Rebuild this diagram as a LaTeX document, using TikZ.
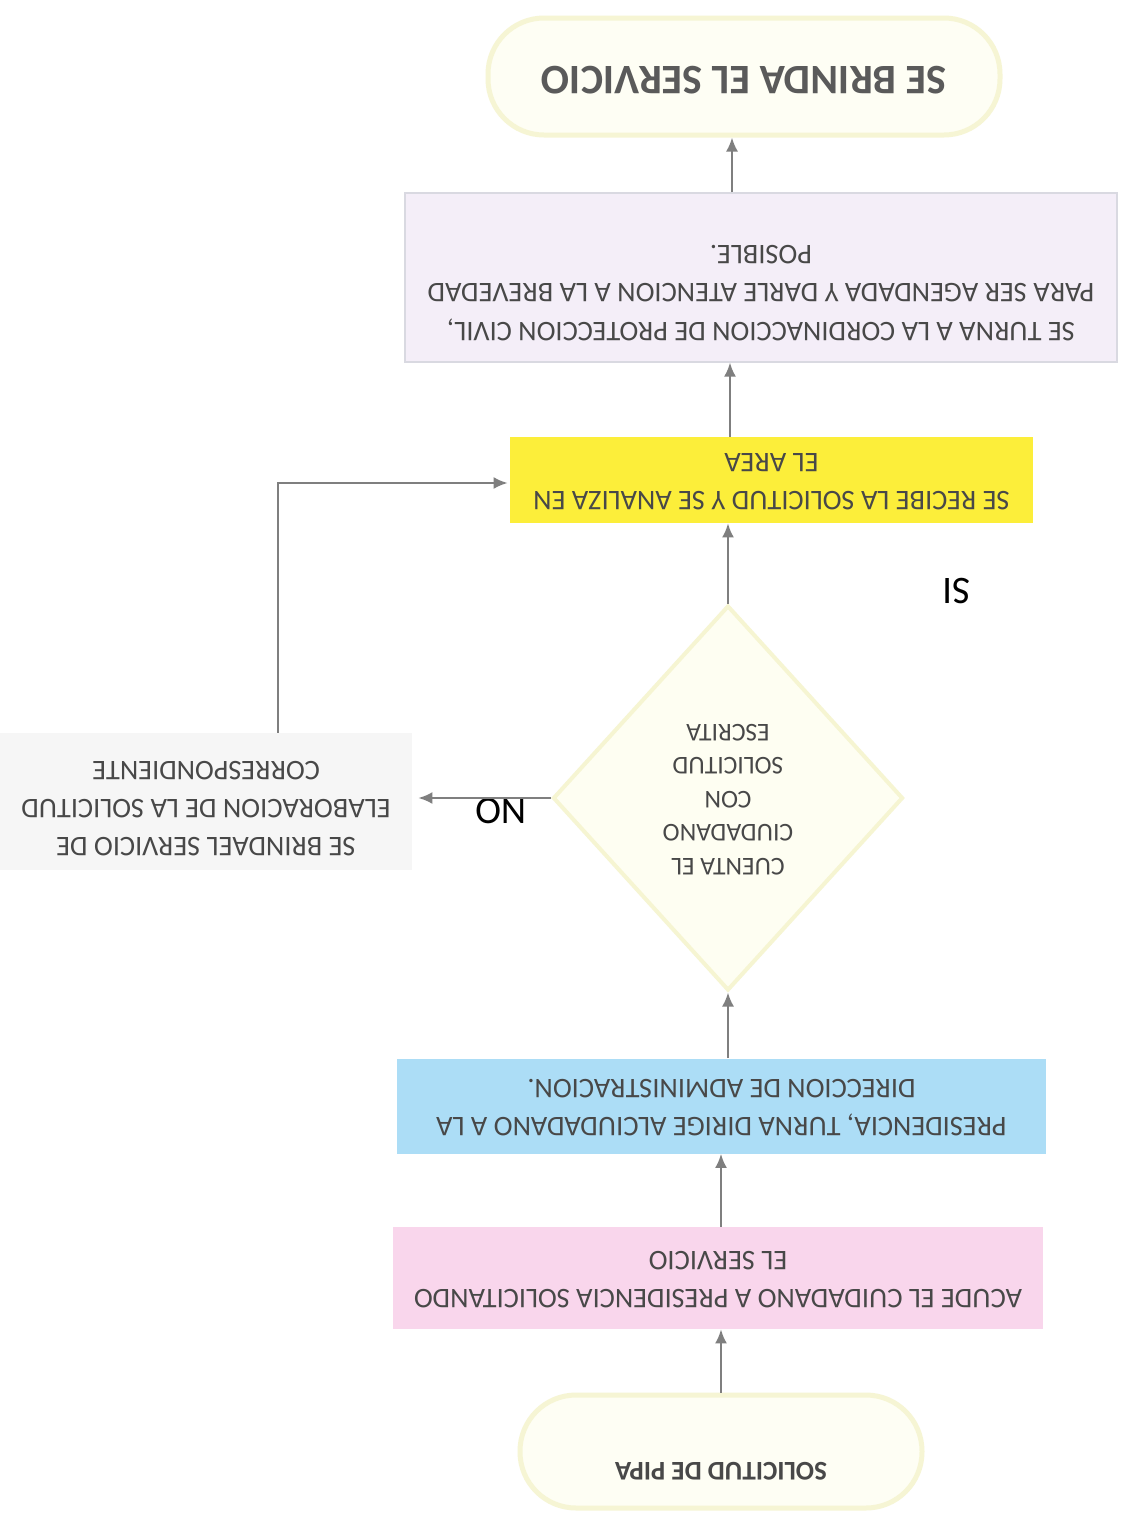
\documentclass[tikz,border=0pt]{standalone}
\usepackage{fontspec}
\setmainfont{Carlito}
\usepackage{graphicx}
\usetikzlibrary{shapes.geometric,arrows.meta,calc}
\definecolor{txt}{HTML}{484848}
\definecolor{termfill}{HTML}{FEFEF4}
\definecolor{termdraw}{HTML}{F6F5D4}
\definecolor{lavfill}{HTML}{F4EEF8}
\definecolor{lavdraw}{HTML}{D9D9E1}
\definecolor{yelfill}{HTML}{FCEE3A}
\definecolor{bluefill}{HTML}{ACDDF6}
\definecolor{pinkfill}{HTML}{F9D6EC}
\definecolor{grayfill}{HTML}{F6F6F6}
\definecolor{diafill}{HTML}{FEFEF2}
\definecolor{diadraw}{HTML}{F6F5D2}
\definecolor{arrgray}{HTML}{7F7F7F}
\newcommand{\flip}[1]{\rotatebox[origin=c]{180}{\begin{tabular}{@{}c@{}}#1\end{tabular}}}
\begin{document}
\begin{tikzpicture}[x=0.5pt,y=-0.5pt,
  box/.style={rectangle, inner sep=0pt, text=txt, font=\fontsize{14.2}{19}\selectfont},
  term/.style={rectangle, rounded corners=28pt, fill=termfill, draw=termdraw, line width=2.5pt, inner sep=0pt, text=txt},
  arr/.style={draw=arrgray, line width=1.1pt, -{Latex[length=7pt,width=6pt]}},
  lbl/.style={font=\fontsize{19.5}{20}\selectfont, text=black, inner sep=0pt}]
\useasboundingbox (0,0) rectangle (1127,1522);
\fill[white] (0,0) rectangle (1127,1522);

% terminals
\node[term, minimum width=256pt, minimum height=58.5pt, text=txt!90, font=\bfseries\fontsize{21}{24}\selectfont] (title) at (744,76.5) {\flip{SE BRINDA EL SERVICIO}};
\node[term, minimum width=201pt, minimum height=56.5pt,
  label={[yshift=-8.5pt, text=txt, inner sep=0pt, font=\bfseries\fontsize{13.5}{16}\selectfont]center:\flip{SOLICITUD DE PIPA}}] (start) at (721,1451.5) {};

% process boxes
\node[box, fill=lavfill, draw=lavdraw, line width=0.6pt, minimum width=356pt, minimum height=84.5pt,
  label={[yshift=-7pt, text=txt, inner sep=0pt, font=\fontsize{14.2}{19.3}\selectfont]center:\flip{SE TURNA A LA CORDINACCION DE PROTECCION CIVIL,\\PARA SER AGENDADA Y DARLE ATENCION A LA BREVEDAD\\POSIBLE.}}] (lav) at (761,277.5) {};
\node[box, fill=yelfill, minimum width=261.5pt, minimum height=43pt] (yel) at (771.5,480) {\flip{SE RECIBE LA SOLICITUD Y SE ANALIZA EN\\EL AREA}};
\node[box, fill=grayfill, minimum width=206pt, minimum height=68.5pt,
  label={[yshift=-3pt, text=txt, inner sep=0pt, font=\fontsize{14.2}{19}\selectfont]center:\flip{SE BRINDAEL SERVICIO DE\\ELABORACION DE LA SOLICITUD\\CORRESPONDIENTE}}] (gray) at (206,801.5) {};
\node[box, fill=bluefill, minimum width=324.5pt, minimum height=47.5pt] (blue) at (721.5,1106) {\flip{PRESIDENCIA, TURNA DIRIGE ALCIUDADANO A LA\\DIRECCION DE ADMINISTRACION.}};
\node[box, fill=pinkfill, minimum width=325pt, minimum height=51pt] (pink) at (718,1278) {\flip{ACUDE EL CUIDADANO A PRESIDENCIA SOLICITANDO\\EL SERVICIO}};

% decision
\node[diamond, fill=diafill, draw=diadraw, line width=2pt, inner sep=0pt, aspect=0.91,
  minimum width=175pt, minimum height=192.5pt, text=txt, font=\fontsize{12.8}{16.75}\selectfont] (dia) at (728,798) {\flip{CUENTA EL\\CIUDADANO\\CON\\SOLICITUD\\ESCRITA}};

% labels
\node[lbl] (no) at (501,806) {\flip{NO}};
\node[lbl] (si) at (957,586) {\flip{SI}};

% connectors
\draw[arr] (start.north) -- (start.north |- pink.south);
\draw[arr] (start.north |- pink.north) -- (start.north |- blue.south);
\draw[arr] (dia.south |- blue.north) -- (dia.south);
\draw[arr] (dia.north) -- (dia.north |- yel.south);
\draw[arr] ([xshift=1pt]dia.north |- yel.north) -- ([xshift=1pt]dia.north |- lav.south);
\draw[arr] ([xshift=2pt]dia.north |- lav.north) -- ([xshift=2pt]dia.north |- title.south);
\draw[arr] (dia.west) -- ([xshift=3pt]dia.west -| gray.east);
\draw[arr] ([xshift=36pt]gray.north) |- ([xshift=-1pt,yshift=-1.5pt]yel.west);
\end{tikzpicture}
\end{document}
